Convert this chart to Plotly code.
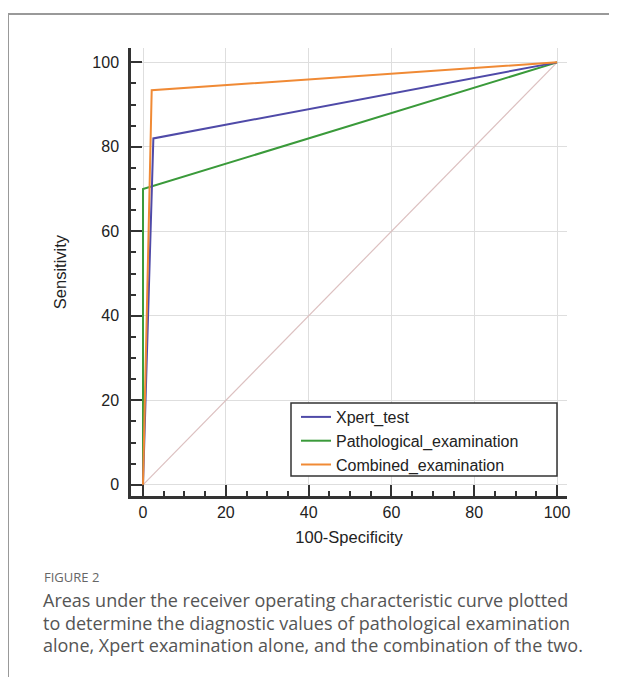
import plotly.graph_objects as go

# ---- data ----
xpert_x = [0, 2.5, 100]
xpert_y = [0, 82, 100]
patho_x = [0, 0, 100]
patho_y = [0, 70, 100]
comb_x = [0, 2.1, 100]
comb_y = [0, 93.4, 100]
ref_x = [0, 100]
ref_y = [0, 100]
tick_vals = [0, 20, 40, 60, 80, 100]
caption_title = "FIGURE 2"
caption_lines = [
    "Areas under the receiver operating characteristic curve plotted",
    "to determine the diagnostic values of pathological examination",
    "alone, Xpert examination alone, and the combination of the two.",
]

OFF = 8  # page body margin
W, H = 617 - OFF, 677 - OFF
L, R, T, B = 131 - OFF, 50, 48 - OFF, 189 - OFF
pw, ph = W - L - R, H - T - B

def px(x):
    return (x - OFF - L) / pw

def py(y):
    return (H - B - (y - OFF)) / ph

fig = go.Figure()
fig.add_trace(go.Scatter(x=ref_x, y=ref_y, mode="lines", showlegend=False,
                         line=dict(color="#dcc0c0", width=1.2), hoverinfo="skip"))
fig.add_trace(go.Scatter(x=patho_x, y=patho_y, mode="lines", name="Pathological_examination",
                         line=dict(color="#3a9a3a", width=2)))
fig.add_trace(go.Scatter(x=xpert_x, y=xpert_y, mode="lines", name="Xpert_test",
                         line=dict(color="#4f4aa8", width=2)))
fig.add_trace(go.Scatter(x=comb_x, y=comb_y, mode="lines", name="Combined_examination",
                         line=dict(color="#f08a35", width=2)))

axis_common = dict(
    showline=True, linecolor="#333", linewidth=2.5,
    ticks="inside", ticklen=11, tickwidth=2, tickcolor="#333",
    tickvals=tick_vals, showgrid=True, gridcolor="#dedede", gridwidth=1,
    zeroline=False, tickfont=dict(family="Liberation Sans, Arial", size=16, color="#222"),
    minor=dict(ticks="inside", ticklen=5, tickwidth=1.5, tickcolor="#333", dtick=5, showgrid=False),
)
fig.update_xaxes(range=[-2.9, 102.4], title=dict(text="100-Specificity",
                 font=dict(family="Liberation Sans, Arial", size=16.5, color="#222"), standoff=12),
                 ticklabelstandoff=0, **axis_common)
fig.update_yaxes(range=[-2.65, 103.4], title=dict(text="Sensitivity",
                 font=dict(family="Liberation Sans, Arial", size=16.5, color="#222"), standoff=22),
                 ticklabelstandoff=6, **axis_common)

shapes = [
    dict(type="line", xref="paper", yref="paper", x0=px(8), x1=px(617), y0=py(14), y1=py(14),
         line=dict(color="#999", width=2)),
    dict(type="line", xref="paper", yref="paper", x0=px(8), x1=px(8), y0=py(14), y1=py(677),
         line=dict(color="#999", width=2)),
    # legend frame
    dict(type="rect", xref="paper", yref="paper", x0=px(291), x1=px(557), y0=py(476), y1=py(403),
         line=dict(color="#333", width=1.5), fillcolor="white", layer="above"),
]

annotations = [
    dict(text=caption_title, xref="paper", yref="paper", x=px(42), y=py(577), xanchor="left",
         yanchor="middle", showarrow=False, font=dict(family="Open Sans", size=13, color="#666")),
]
for i, line in enumerate(caption_lines):
    annotations.append(dict(text=line, xref="paper", yref="paper", x=px(41), y=py(600 + 22.5 * i),
                            xanchor="left", yanchor="middle", showarrow=False,
                            font=dict(family="Open Sans", size=18, color="#555")))

fig.update_layout(
    width=W, height=H, margin=dict(l=L, r=R, t=T, b=B),
    paper_bgcolor="white", plot_bgcolor="white",
    shapes=shapes, annotations=annotations,
    legend=dict(x=px(296), y=py(400), xanchor="left", yanchor="top",
                borderwidth=0, bgcolor="rgba(0,0,0,0)",
                font=dict(family="Liberation Sans, Arial", size=16, color="#222"),
                traceorder="normal", itemwidth=30, tracegroupgap=0),
    showlegend=True,
)
# legend order: Xpert, Patho, Combined
fig.data[2].legendrank = 1
fig.data[1].legendrank = 2
fig.data[3].legendrank = 3

fig.write_html("out.html")
